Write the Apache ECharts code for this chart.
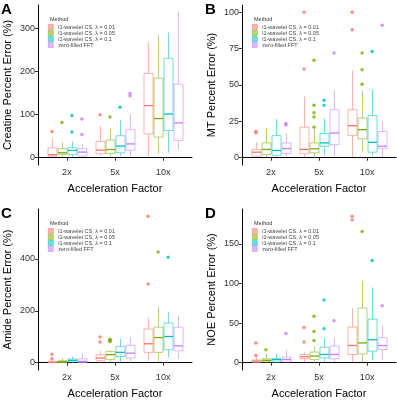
<!DOCTYPE html>
<html>
<head>
<meta charset="utf-8">
<script src="https://cdn.jsdelivr.net/npm/echarts@6/dist/echarts.min.js"></script>
<style>
  html, body { margin: 0; padding: 0; background: #fff; }
  #chart { width: 397px; height: 400px; }
</style>
</head>
<body>
<div id="chart"></div>
<script>
const factors = ['2x', '5x', '10x']
const methods = ['l1-wavelet CS, λ = 0.01', 'l1-wavelet CS, λ = 0.05', 'l1-wavelet CS, λ = 0.1', 'zero-filled FFT']

// [min, q1, median, q3, max] per factor, one row per method
const creatineBoxes = [
  [[1.5, 4, 7, 23, 46], [4, 9, 17.5, 38, 73], [4, 55, 121, 196, 269]],
  [[1, 7.6, 11.5, 21, 36], [2, 10, 19, 41, 67], [9, 48, 91, 185, 285]],
  [[2, 7.6, 17, 23, 38], [3, 11.5, 27, 51, 87], [11.5, 63, 101.5, 231, 291]],
  [[2, 4, 13, 21, 31], [2, 17.5, 32, 65, 100], [19, 40, 81, 171, 338]]
]
const creatineOutliers = [
  [[61], [100], []],
  [[82], [94.5], []],
  [[98, 60], [117], []],
  [[90, 54], [144, 149], []]
]

const mtBoxes = [
  [[0.5, 1.1, 3.8, 5.7, 10.6], [0.5, 2.7, 5.7, 21, 42], [0.5, 15.2, 22, 33, 60]],
  [[0.5, 2.2, 5.7, 10.2, 20.4], [0, 3.4, 6.1, 10.2, 19.5], [4.5, 13, 19.3, 27.3, 46]],
  [[0.5, 1.6, 5, 15.2, 26.6], [1.5, 7.9, 10.2, 16.6, 27], [1, 3.8, 10.6, 29, 46.5]],
  [[0.7, 2.9, 6.3, 10.2, 17], [1, 9, 17, 33, 46], [0.5, 6.1, 7.9, 18.1, 25]]
]
const mtOutliers = [
  [[17, 18], [100, 61], [100, 88]],
  [[], [67, 36, 31, 28, 21], [72, 60.5, 50.5]],
  [[], [39.5, 36], [73]],
  [[22.5, 23.5], [72], [91]]
]

const amideBoxes = [
  [[0, 0.5, 2, 6, 12], [0, 8, 18, 31, 46], [5, 40, 73, 130, 172]],
  [[0, 1, 4, 7.7, 18], [0, 12, 31, 43, 48], [5, 40, 97, 137, 217]],
  [[0.5, 3, 9, 14, 24], [0, 24, 40, 63, 91], [22, 50, 101, 153, 194]],
  [[0, 1.5, 5, 15, 34], [0, 18, 37, 67, 99], [15, 46, 65, 137, 181]]
]
const amideOutliers = [
  [[15, 33], [80, 99], [564, 303]],
  [[], [82, 85, 88, 90], [426]],
  [[], [], [406]],
  [[], [], []]
]

const noeBoxes = [
  [[0, 0.5, 2, 3.5, 7.5], [0.5, 5, 7.5, 10.4, 13], [1, 10.4, 21.7, 45, 69]],
  [[0, 1, 3, 5, 11], [0, 4, 8.3, 13.4, 21], [1, 11, 25, 69, 103.4]],
  [[0, 0.8, 3.8, 5.4, 11], [1, 6.2, 10.4, 19.6, 31], [3, 14.6, 29, 55, 95]],
  [[0, 1, 4, 7, 16], [1, 5, 10.4, 21, 31], [4, 16.7, 21.7, 31.4, 47]]
]
const noeOutliers = [
  [[9, 25], [44.5, 26], [185, 180]],
  [[16.5], [58.5, 39.5, 28], [165.5]],
  [[], [79, 43], [129]],
  [[37], [53], [72]]
]

const creatineTicks = [0, 100, 200, 300]
const mtTicks = [0, 25, 50, 75, 100]
const amideTicks = [0, 200, 400]
const noeTicks = [0, 50, 100, 150]

const colors = ['#F8766D', '#7CAE00', '#00BFC4', '#C77CFF']
const lightColors = ['rgba(248,118,109,0.55)', 'rgba(124,174,0,0.55)', 'rgba(0,191,196,0.55)', 'rgba(199,124,255,0.55)']
const offsets = [-15, -5, 5, 15]
const BOX_W = 9
const FONT = 'Liberation Sans, Arial, sans-serif'

const panels = [
  { letter: 'A', name: 'Creatine Percent Error (%)', boxes: creatineBoxes, outliers: creatineOutliers, ticks: creatineTicks,
    left: 38, top: 5, height: 160, min: -17, max: 355 },
  { letter: 'B', name: 'MT Percent Error (%)', boxes: mtBoxes, outliers: mtOutliers, ticks: mtTicks,
    left: 242, top: 5, height: 160, min: -5, max: 105 },
  { letter: 'C', name: 'Amide Percent Error (%)', boxes: amideBoxes, outliers: amideOutliers, ticks: amideTicks,
    left: 38, top: 209, height: 162, min: -28, max: 592 },
  { letter: 'D', name: 'NOE Percent Error (%)', boxes: noeBoxes, outliers: noeOutliers, ticks: noeTicks,
    left: 242, top: 209, height: 161, min: -9.2, max: 194 }
]

function renderBox(m) {
  return function (params, api) {
    const x = api.value(0)
    const pMin = api.coord([x, api.value(1)])
    const pQ1 = api.coord([x, api.value(2)])
    const pMed = api.coord([x, api.value(3)])
    const pQ3 = api.coord([x, api.value(4)])
    const pMax = api.coord([x, api.value(5)])
    const cx = Math.round(pMin[0] + offsets[m]) + 0.5
    const h = BOX_W / 2
    const light = { stroke: lightColors[m], lineWidth: 1 }
    return {
      type: 'group',
      children: [
        { type: 'line', shape: { x1: cx, y1: pMax[1], x2: cx, y2: pQ3[1] }, style: light },
        { type: 'line', shape: { x1: cx, y1: pQ1[1], x2: cx, y2: pMin[1] }, style: light },
        { type: 'rect', shape: { x: cx - h, y: pQ3[1], width: BOX_W, height: pQ1[1] - pQ3[1] },
          style: { fill: '#fff', stroke: lightColors[m], lineWidth: 1 } },
        { type: 'line', shape: { x1: cx - h, y1: pMed[1], x2: cx + h, y2: pMed[1] },
          style: { stroke: colors[m], lineWidth: 1.3 } }
      ]
    }
  }
}

const grid = [], xAxis = [], yAxis = [], series = [], legend = [], title = []

panels.forEach((p, i) => {
  grid.push({ left: p.left, top: p.top, width: 154, height: p.height })
  xAxis.push({
    type: 'value', gridIndex: i, min: 0.4, max: 3.6,
    name: 'Acceleration Factor', nameLocation: 'middle', nameGap: 18,
    nameTextStyle: { fontSize: 11, color: '#000', fontFamily: FONT },
    axisLine: { lineStyle: { color: '#000', width: 1 } },
    axisTick: { customValues: [1, 2, 3], length: 3, lineStyle: { color: '#333' } },
    axisLabel: { customValues: [1, 2, 3], formatter: v => factors[Math.round(v) - 1], fontSize: 9, color: '#333', margin: 3, fontFamily: FONT },
    splitLine: { show: false }
  })
  yAxis.push({
    type: 'value', gridIndex: i, min: p.min, max: p.max,
    name: p.name, nameLocation: 'middle', nameGap: 25,
    nameTextStyle: { fontSize: 11, color: '#000', fontFamily: FONT },
    axisLine: { show: true, lineStyle: { color: '#000', width: 1 } },
    axisTick: { show: true, customValues: p.ticks, length: 3, lineStyle: { color: '#333' } },
    axisLabel: { customValues: p.ticks, fontSize: 9, color: '#333', margin: 3, fontFamily: FONT },
    splitLine: { show: false }
  })
  methods.forEach((name, m) => {
    series.push({
      type: 'custom', name: name, xAxisIndex: i, yAxisIndex: i,
      itemStyle: { color: colors[m] },
      encode: { x: 0, y: [1, 2, 3, 4, 5] },
      renderItem: renderBox(m),
      data: p.boxes[m].map((b, j) => [j + 1].concat(b))
    })
    const pts = []
    p.outliers[m].forEach((vals, j) => vals.forEach(v => pts.push([j + 1, v])))
    series.push({
      type: 'scatter', name: name, xAxisIndex: i, yAxisIndex: i,
      symbolSize: 3.5, symbolOffset: [offsets[m], 0],
      itemStyle: { color: colors[m] },
      data: pts
    })
  })
  legend.push({
    orient: 'vertical', left: p.left + 10, top: p.top + 19,
    itemWidth: 5, itemHeight: 5, itemGap: 0, padding: 0,
    selectedMode: false,
    textStyle: { fontSize: 5.5, lineHeight: 6, color: '#444', fontFamily: FONT },
    data: methods.map((name, m) => ({
      name: name, icon: 'rect',
      itemStyle: { color: lightColors[m], borderColor: colors[m], borderWidth: 0.5 }
    }))
  })
  title.push({
    text: p.letter, left: p.left - 37, top: p.top - 3, padding: 0,
    textStyle: { fontSize: 15, fontWeight: 'bold', color: '#000', fontFamily: FONT }
  })
  title.push({
    text: 'Method', left: p.left + 12, top: p.top + 11, padding: 0,
    textStyle: { fontSize: 5.5, fontWeight: 'normal', color: '#333', fontFamily: FONT }
  })
})

const chart = echarts.init(document.getElementById('chart'))
chart.setOption({
  animation: false,
  textStyle: { fontFamily: FONT },
  title: title,
  grid: grid,
  xAxis: xAxis,
  yAxis: yAxis,
  legend: legend,
  series: series
})
</script>
</body>
</html>
